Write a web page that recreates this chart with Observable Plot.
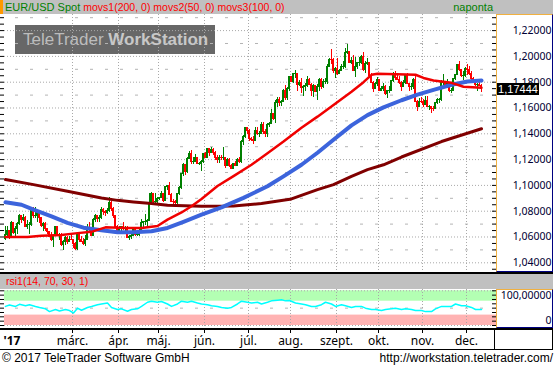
<!DOCTYPE html>
<html><head><meta charset="utf-8">
<script src="https://cdn.jsdelivr.net/npm/d3@7"></script>
<script src="https://cdn.jsdelivr.net/npm/@observablehq/plot@0.6"></script>
<style>
body{margin:0;width:555px;height:366px;position:relative;background:#fff;font-family:Arial,"Liberation Sans",sans-serif;overflow:hidden}
.a{position:absolute;box-sizing:border-box;white-space:nowrap}
</style></head><body>
<script>
// EUR/USD daily candles, trading-day index 0 = 2017-01-12 (weekdays only)
const firstOpen = 1.0585;
const close = [1.0615,1.0645,1.0605,1.0710,1.0632,1.0662,1.0703,1.0762,1.0730,1.0750,1.0680,1.0696,1.0696,1.0798,
1.0760,1.0762,1.0785,1.0747,1.0685,1.0700,1.0660,1.0640,1.0600,1.0575,1.0605,1.0675,1.0615,1.0615,1.0540,1.0560,1.0590,1.0560,1.0580,1.0575,
1.0545,1.0505,1.0620,1.0580,1.0565,1.0545,1.0580,1.0670,1.0655,1.0605,1.0735,1.0765,1.0740,1.0745,1.0810,1.0795,1.0785,1.0800,1.0865,1.0815,1.0765,1.0680,1.0650,
1.0665,1.0675,1.0660,1.0665,1.0590,1.0600,1.0605,1.0670,1.0615,1.0615,1.0645,1.0705,1.0715,1.0715,1.0725,1.0860,1.0930,1.0875,1.0875,1.0895,
1.0905,1.0930,1.0880,1.0985,1.0995,1.0925,1.0875,1.0870,1.0865,1.0930,1.0980,1.1085,1.1160,1.1100,1.1205,1.1240,1.1185,1.1185,1.1210,1.1165,1.1165,1.1185,1.1245,
1.1215,1.1280,1.1250,1.1275,1.1255,1.1210,1.1195,1.1215,1.1210,1.1215,1.1150,1.1195,1.1150,1.1130,1.1165,1.1150,1.1195,1.1180,1.1335,1.1375,1.1445,1.1425,
1.1360,1.1350,1.1345,1.1420,1.1400,1.1400,1.1465,1.1415,1.1395,1.1470,1.1475,1.1555,1.1515,1.1635,1.1665,1.1640,1.1650,1.1735,1.1675,1.1750,1.1840,
1.1805,1.1860,1.1865,1.1775,1.1790,1.1755,1.1765,1.1770,1.1820,1.1780,1.1735,1.1770,1.1725,1.1760,1.1815,1.1760,1.1800,1.1800,1.1920,1.1975,1.1970,1.1885,1.1905,
1.1860,1.1885,1.1915,1.1920,1.2025,1.2035,1.1950,1.1965,1.1885,1.1920,1.1945,1.1950,1.1995,1.1895,1.1940,1.1950,1.1850,1.1795,1.1745,1.1785,1.1815,
1.1735,1.1745,1.1765,1.1705,1.1730,1.1735,1.1810,1.1860,1.1830,1.1820,1.1795,1.1765,1.1790,1.1850,1.1785,1.1760,1.1760,1.1815,1.1650,1.1610,1.1650,1.1645,
1.1620,1.1655,1.1610,1.1610,1.1595,1.1590,1.1640,1.1665,1.1665,1.1795,1.1795,1.1770,1.1790,1.1735,1.1735,1.1825,1.1855,1.1930,1.1895,1.1845,1.1845,1.1905,
1.1895,1.1865,1.1825,1.1795,1.1775,1.1775,1.1770,1.1744];
const high = [1.0685,1.0685,1.0650,1.0720,1.0715,1.0680,1.0710,1.0775,1.0770,1.0775,1.0760,1.0725,1.0710,1.0810,
1.0830,1.0830,1.0800,1.0790,1.0755,1.0715,1.0710,1.0665,1.0645,1.0635,1.0615,1.0680,1.0680,1.0630,1.0630,1.0575,1.0605,1.0600,1.0605,1.0625,
1.0580,1.0555,1.0630,1.0630,1.0605,1.0590,1.0615,1.0700,1.0715,1.0670,1.0745,1.0775,1.0770,1.0765,1.0825,1.0820,1.0805,1.0820,1.0905,1.0875,1.0825,1.0770,1.0690,
1.0685,1.0680,1.0715,1.0680,1.0680,1.0615,1.0640,1.0675,1.0675,1.0630,1.0665,1.0735,1.0720,1.0775,1.0735,1.0940,1.0945,1.0935,1.0935,1.0905,
1.0910,1.0950,1.0935,1.0990,1.1000,1.1025,1.0935,1.0890,1.0885,1.0935,1.0990,1.1090,1.1170,1.1165,1.1215,1.1265,1.1268,1.1215,1.1240,1.1215,1.1180,1.1195,1.1250,
1.1255,1.1285,1.1285,1.1295,1.1285,1.1265,1.1230,1.1230,1.1230,1.1295,1.1220,1.1210,1.1205,1.1165,1.1170,1.1185,1.1205,1.1215,1.1350,1.1385,1.1445,1.1450,
1.1430,1.1375,1.1380,1.1445,1.1450,1.1420,1.1490,1.1490,1.1435,1.1480,1.1485,1.1585,1.1560,1.1660,1.1680,1.1680,1.1660,1.1740,1.1775,1.1760,1.1845,
1.1845,1.1865,1.1890,1.1870,1.1815,1.1830,1.1775,1.1790,1.1845,1.1825,1.1790,1.1780,1.1775,1.1780,1.1825,1.1830,1.1820,1.1825,1.1940,1.1985,1.2050,1.1980,1.1915,
1.1980,1.1900,1.1935,1.1960,1.2060,1.2092,1.2040,1.1995,1.2005,1.1990,1.1950,1.1990,1.2005,1.2030,1.1960,1.1985,1.1955,1.1865,1.1805,1.1800,1.1835,
1.1820,1.1765,1.1790,1.1775,1.1735,1.1765,1.1815,1.1875,1.1880,1.1850,1.1845,1.1805,1.1815,1.1860,1.1865,1.1790,1.1790,1.1830,1.1860,1.1660,1.1670,1.1680,
1.1665,1.1690,1.1690,1.1620,1.1610,1.1610,1.1645,1.1670,1.1675,1.1810,1.1860,1.1800,1.1820,1.1795,1.1750,1.1830,1.1860,1.1935,1.1960,1.1900,1.1885,1.1915,
1.1940,1.1920,1.1880,1.1835,1.1810,1.1790,1.1800,1.1785];
const low = [1.0575,1.0595,1.0580,1.0590,1.0620,1.0590,1.0620,1.0690,1.0705,1.0720,1.0675,1.0655,1.0620,1.0680,
1.0740,1.0745,1.0710,1.0705,1.0670,1.0640,1.0645,1.0620,1.0595,1.0565,1.0520,1.0600,1.0605,1.0575,1.0525,1.0495,1.0535,1.0545,1.0555,1.0570,
1.0510,1.0495,1.0495,1.0560,1.0555,1.0535,1.0525,1.0580,1.0635,1.0600,1.0600,1.0710,1.0715,1.0715,1.0735,1.0770,1.0760,1.0775,1.0790,1.0800,1.0740,1.0675,1.0645,
1.0630,1.0630,1.0650,1.0640,1.0585,1.0570,1.0580,1.0600,1.0600,1.0605,1.0600,1.0630,1.0675,1.0690,1.0680,1.0820,1.0845,1.0860,1.0850,1.0850,
1.0880,1.0895,1.0870,1.0875,1.0960,1.0920,1.0870,1.0840,1.0840,1.0855,1.0925,1.0970,1.1070,1.1075,1.1095,1.1200,1.1165,1.1160,1.1175,1.1160,1.1155,1.1110,1.1170,
1.1205,1.1210,1.1225,1.1245,1.1235,1.1195,1.1170,1.1170,1.1190,1.1195,1.1130,1.1145,1.1140,1.1120,1.1120,1.1145,1.1150,1.1170,1.1170,1.1310,1.1365,1.1395,
1.1340,1.1340,1.1315,1.1340,1.1390,1.1375,1.1395,1.1395,1.1370,1.1370,1.1450,1.1470,1.1500,1.1480,1.1600,1.1610,1.1610,1.1640,1.1660,1.1660,1.1730,
1.1795,1.1790,1.1825,1.1730,1.1770,1.1715,1.1690,1.1725,1.1760,1.1775,1.1690,1.1680,1.1720,1.1660,1.1730,1.1745,1.1755,1.1780,1.1785,1.1920,1.1940,1.1870,1.1825,
1.1855,1.1860,1.1880,1.1900,1.1910,1.2015,1.1945,1.1935,1.1880,1.1835,1.1895,1.1920,1.1940,1.1885,1.1865,1.1930,1.1840,1.1790,1.1718,1.1740,1.1770,
1.1730,1.1730,1.1725,1.1695,1.1670,1.1715,1.1725,1.1795,1.1815,1.1810,1.1780,1.1730,1.1760,1.1780,1.1780,1.1725,1.1735,1.1745,1.1645,1.1575,1.1600,1.1635,
1.1605,1.1620,1.1600,1.1580,1.1555,1.1570,1.1590,1.1625,1.1635,1.1650,1.1775,1.1760,1.1750,1.1720,1.1715,1.1730,1.1815,1.1850,1.1880,1.1840,1.1810,1.1835,
1.1850,1.1850,1.1805,1.1790,1.1765,1.1730,1.1765,1.1720];

// moving averages (trading-day index, value)
const ma50Day = [0,11,18,28,36,43,46,50,60,68,76,81,88,93,98,106,114,123,131,139,148,156,164,173,179,183,186,205,209,214,223,229,238];
const ma50Val = [1.0600,1.0600,1.0610,1.0615,1.0630,1.0640,1.0655,1.0675,1.0670,1.0670,1.0685,1.0735,1.0790,1.0838,1.0895,1.0995,1.1072,1.1160,1.1250,1.1340,1.1447,1.1533,1.1624,1.1726,1.1800,1.1857,1.1865,1.1858,1.1833,1.1813,1.1795,1.1765,1.1757];
const ma100Day = [0,8,14,23,31,39,48,56,64,73,81,89,98,108,119,131,139,148,156,164,173,181,189,198,206,214,223,231,238];
const ma100Val = [1.0869,1.0850,1.0812,1.0760,1.0710,1.0672,1.0652,1.0637,1.0637,1.0644,1.0670,1.0717,1.0773,1.0830,1.0903,1.0993,1.1070,1.1160,1.1253,1.1354,1.1465,1.1545,1.1605,1.1660,1.1703,1.1741,1.1780,1.1805,1.1813];
const ma200Day = [0,14,31,48,56,64,73,81,98,114,128,143,156,164,173,181,189,198,218,238];
const ma200Val = [1.1045,1.1006,1.0954,1.0903,1.0884,1.0872,1.0859,1.0846,1.0838,1.0840,1.0860,1.0895,1.0967,1.1006,1.1070,1.1122,1.1160,1.1220,1.1340,1.1439];

// RSI(14)
const rsiDay = [0,2,5,7,10,12,15,17,20,22,25,27,30,32,34,36,38,41,43,46,48,51,53,56,58,61,63,66,68,71,73,76,78,81,83,86,88,91,93,96,98,101,103,106,108,111,113,116,118,121,123,126,128,131,133,136,138,140,142,145,148,150,153,155,158,160,163,165,168,170,173,175,178,180,183,185,188,190,193,195,198,200,203,205,208,210,213,215,218,220,223,225,228,230,233,235,238];
const rsiVal = [55,59,55,61,57,60,55,52,48,40,46,42,46,43,36,50,44,52,55,60,62,65,52,46,48,41,46,48,55,67,70,67,69,62,55,62,70,67,70,65,62,60,57,55,52,50,52,62,70,67,65,67,62,67,71,73,74,71,72,65,62,60,55,55,60,67,62,55,60,57,52,55,55,50,46,46,43,46,48,50,46,48,46,43,43,40,40,48,55,55,55,62,57,57,52,46,46];

const monthStart = [34,57,77,100,122,143,166,187,209,231];
const monthLabels = ["márc.","ápr.","máj.","jún.","júl.","aug.","szept.","okt.","nov.","dec."];
const yearLabel = "'17";
const priceTicks = [1.04,1.06,1.08,1.10,1.12,1.14,1.16,1.18,1.20,1.22];
const lastPrice = 1.17444;
const rsiTop = "100,00000", rsiBottom = "0";

const GREEN = "#008000", RED = "#ff0000";
const XDOM = [-0.5, 245.5];
const fmt = d => d.toFixed(5).replace(".", ",");

const candles = close.map((c, i) => ({i, o: i ? close[i-1] : firstOpen, c, h: high[i], l: low[i]}));
const ma = (days, vals) => days.map((d, k) => ({d, v: vals[k]}));
const minor = d3.range(207, 247).map(k => k * 0.005);
const mids = d3.range(103, 124, 2).map(k => k / 100);
const grid = monthStart.map(d => d - 0.5);

function div(style, html) {
  const e = document.createElement("div"); e.className = "a";
  Object.assign(e.style, style); if (html != null) e.innerHTML = html;
  document.body.appendChild(e); return e;
}
function place(node, left, top) {
  node.style.position = "absolute"; node.style.left = left + "px"; node.style.top = top + "px";
  document.body.appendChild(node);
}

// header
div({left:"0px",top:"0px",width:"553px",height:"14px",background:"#c0c0c0"});
div({left:"0px",top:"0px",width:"3px",height:"14px",background:"#ff9900"});
div({left:"5px",top:"0px",height:"14px",lineHeight:"14px",fontSize:"11px"},
  `<span style="color:${GREEN}">EUR/USD Spot</span> <span style="color:#f00;font-size:10.5px">movs1(200, 0) movs2(50, 0) movs3(100, 0)</span>`);
div({left:"400px",width:"93px",top:"0px",height:"14px",lineHeight:"14px",fontSize:"11px",color:GREEN,textAlign:"right"},"naponta");

// watermark
div({left:"15px",top:"25px",width:"200px",height:"29px",background:"#676767",color:"#bcbcbc",fontSize:"17px",lineHeight:"29px",paddingLeft:"8px"},
  `TeleTrader <b style="color:#c8c8c8">WorkStation</b>`);

// main chart
const main = Plot.plot({
  width: 553, height: 258, marginLeft: 4, marginRight: 57, marginTop: 0, marginBottom: 0,
  style: {background: "none", overflow: "visible"},
  x: {domain: XDOM, axis: null},
  y: {domain: [1.03248, 1.23248], axis: null},
  marks: [
    Plot.ruleY(mids, {stroke: "#b4b4b4", strokeDasharray: "3,12", strokeDashoffset: 4}),
    Plot.ruleY(priceTicks, {stroke: "#a8a8a8", strokeDasharray: "1,2"}),
    Plot.ruleX(grid, {stroke: "#a8a8a8", strokeDasharray: "1,2"}),
    Plot.ruleY(minor, {x1: XDOM[0] - 2, x2: XDOM[0], stroke: "black"}),
    Plot.ruleY(minor, {x1: XDOM[1] - 2, x2: XDOM[1], stroke: "black"}),
    Plot.ruleX(candles, {x: "i", y1: "l", y2: "h", stroke: d => d.c >= d.o ? GREEN : RED, shapeRendering: "crispEdges"}),
    Plot.rect(candles, {x1: d => d.i - 0.5, x2: d => d.i + 0.5, y1: "o", y2: "c", insetTop: -0.5, insetBottom: -0.5,
      fill: d => d.c >= d.o ? GREEN : RED, shapeRendering: "crispEdges"}),
    Plot.line(ma(ma200Day, ma200Val), {x: "d", y: "v", stroke: "#800000", strokeWidth: 3}),
    Plot.line(ma(ma100Day, ma100Val), {x: "d", y: "v", stroke: "#3c64dc", strokeWidth: 4}),
    Plot.line(ma(ma50Day, ma50Val), {x: "d", y: "v", stroke: "#f00000", strokeWidth: 2.5}),
    Plot.text(priceTicks, {y: d => d, text: fmt, frameAnchor: "right", dx: 55, textAnchor: "end", fontSize: 10.5, fill: "#000033"})
  ]
});
place(main, 0, 14);

// main axis box
div({left:"496px",top:"14px",width:"57px",height:"258px",borderLeft:"1px solid #f0b040",borderTop:"1px solid #f0b040",borderRight:"1px solid #000080",borderBottom:"1px solid #000080"});
const yPix = main.scale("y").apply(lastPrice) + 14;
div({left:"497px",top:(yPix - 5.5) + "px",width:"42px",height:"12px",background:"#000",color:"#fff",fontSize:"11px",lineHeight:"12px",textAlign:"center"}, fmt(lastPrice));

// separator
div({left:"0px",top:"272px",width:"553px",height:"2px",background:"#000"});
// RSI header
div({left:"0px",top:"274px",width:"553px",height:"15px",background:"#c0c0c0"});
div({left:"6px",top:"274px",height:"15px",lineHeight:"15px",fontSize:"10.5px",color:"#f00"},"rsi1(14, 70, 30, 1)");

// RSI chart
const rsiTicks = d3.range(0, 101, 12.5);
const rsi = Plot.plot({
  width: 553, height: 39, marginLeft: 4, marginRight: 57, marginTop: 0, marginBottom: 0,
  style: {background: "none", overflow: "visible"},
  x: {domain: XDOM, axis: null},
  y: {domain: [0, 100], range: [36, 1.3], axis: null},
  marks: [
    Plot.rect([0], {x1: XDOM[0], x2: XDOM[1], y1: 70, y2: 100, fill: "#b3ffb3"}),
    Plot.rect([0], {x1: XDOM[0], x2: XDOM[1], y1: 0, y2: 30, fill: "#ffb3b3"}),
    Plot.ruleY([0, 100], {stroke: "#a8a8a8", strokeDasharray: "1,2"}),
    Plot.ruleY([50], {stroke: "#b4b4b4", strokeDasharray: "3,12", strokeDashoffset: 4}),
    Plot.ruleX(grid, {stroke: "#a8a8a8", strokeDasharray: "1,2"}),
    Plot.ruleY(rsiTicks, {x1: XDOM[0] - 2, x2: XDOM[0], stroke: "black"}),
    Plot.ruleY(rsiTicks, {x1: XDOM[1] - 2, x2: XDOM[1], stroke: "black"}),
    Plot.line(rsiDay.map((d, k) => ({d, v: rsiVal[k]})), {x: "d", y: "v", stroke: "#00ffff", strokeWidth: 1.5}),
    Plot.text([100], {y: d => d, text: () => rsiTop, frameAnchor: "right", dx: 55, dy: 5, textAnchor: "end", fontSize: 10.5, fill: "#000033"}),
    Plot.text([0], {y: d => d, text: () => rsiBottom, frameAnchor: "right", dx: 55, dy: -5, textAnchor: "end", fontSize: 10.5, fill: "#000033"})
  ]
});
place(rsi, 0, 289);
div({left:"496px",top:"289px",width:"57px",height:"39px",borderLeft:"1px solid #f0b040",borderTop:"1px solid #f0b040",borderRight:"1px solid #000080",borderBottom:"1px solid #000080"});

// separator + bottom axis
div({left:"0px",top:"328px",width:"553px",height:"2px",background:"#000"});
const xaxis = Plot.plot({
  width: 553, height: 19, marginLeft: 4, marginRight: 57, marginTop: 0, marginBottom: 0,
  style: {background: "none", overflow: "visible"},
  x: {domain: XDOM, axis: null},
  marks: [
    Plot.ruleX(grid, {insetBottom: 16, stroke: "black"}),
    Plot.text(grid, {x: d => d, text: (d, k) => monthLabels[k], fontSize: 12, fill: "black", dy: 1}),
    Plot.text([yearLabel], {frameAnchor: "left", textAnchor: "start", dx: -1, dy: 1, fontSize: 12, fontWeight: "bold", fill: "black"})
  ]
});
place(xaxis, 0, 330);
div({left:"494px",top:"330px",width:"1px",height:"19px",background:"#000"});
div({left:"552px",top:"330px",width:"1px",height:"19px",background:"#000"});
div({left:"0px",top:"349px",width:"553px",height:"1px",background:"#000"});

// footer
div({left:"2px",top:"350px",height:"16px",lineHeight:"16px",fontSize:"12px",color:"#000"},"© 2017 TeleTrader Software GmbH");
div({left:"353px",width:"200px",top:"350px",height:"16px",lineHeight:"16px",fontSize:"12px",color:"#000",textAlign:"right"},"http://workstation.teletrader.com/");
</script>
</body></html>
